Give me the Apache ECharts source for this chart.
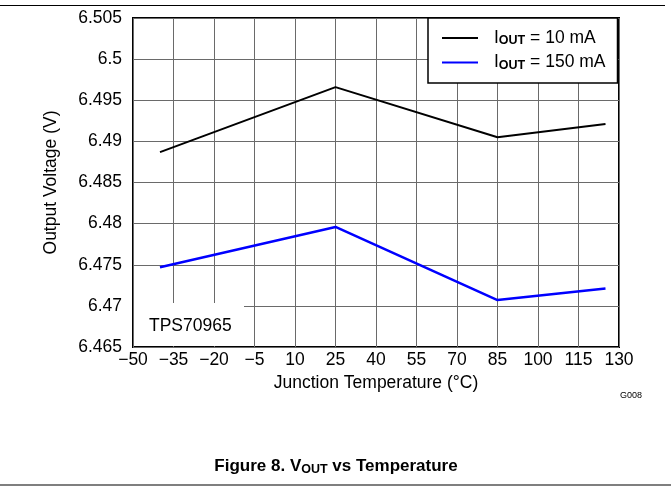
<!DOCTYPE html>
<html><head><meta charset="utf-8">
<script src="https://cdn.jsdelivr.net/npm/echarts@6/dist/echarts.min.js"></script>
<style>html,body{margin:0;padding:0;background:#fff}#c{width:671px;height:487px}</style>
</head><body><div id="c"></div>
<script>
// ---- data ----
const tempC = [-40, 25, 85, 125];
const vout10mA = [6.4887, 6.4966, 6.4905, 6.4921];
const vout150mA = [6.4747, 6.4796, 6.4707, 6.4721];
const seriesNames = ['10 mA', '150 mA'];
const xTickMin = -50, xTickMax = 130, xTickStep = 15;
const yTickMin = 6.465, yTickMax = 6.505, yTickStep = 0.005;
const deviceLabel = 'TPS70965';
const figureId = 'G008';
const xTitle = 'Junction Temperature (°C)';
const yTitle = 'Output Voltage (V)';

const FONT = 'Liberation Sans, Arial, sans-serif';
const FS = 17.5;
const chart = echarts.init(document.getElementById('c'), null, {renderer: 'canvas'});

const toPairs = (xs, ys) => xs.map((x, i) => [x, ys[i]]);

chart.setOption({
  animation: false,
  backgroundColor: '#fff',
  textStyle: {fontFamily: FONT},
  grid: {left: 133, right: 52, top: 18, bottom: 140, show: true,
         borderColor: '#000', borderWidth: 2, backgroundColor: 'transparent', containLabel: false},
  xAxis: {
    type: 'value', min: xTickMin, max: xTickMax, interval: xTickStep,
    name: xTitle, nameLocation: 'middle', nameGap: 25,
    nameTextStyle: {fontSize: FS, color: '#000', fontFamily: FONT},
    axisLine: {show: false}, axisTick: {show: false},
    axisLabel: {fontSize: FS, color: '#000', margin: 4, fontFamily: FONT,
      formatter: v => v < 0 ? '\u2212' + Math.abs(v) : String(v)},
    splitLine: {show: true, lineStyle: {color: '#6a6a6a', width: 1}}
  },
  yAxis: {
    type: 'value', min: yTickMin, max: yTickMax, interval: yTickStep,
    name: yTitle, nameLocation: 'middle', nameGap: 73,
    nameTextStyle: {fontSize: FS, color: '#000', fontFamily: FONT},
    axisLine: {show: false}, axisTick: {show: false},
    axisLabel: {fontSize: FS, color: '#000', margin: 11, fontFamily: FONT,
      formatter: v => String(Number(v.toFixed(3)))},
    splitLine: {show: true, lineStyle: {color: '#6a6a6a', width: 1}}
  },
  legend: {
    orient: 'vertical', left: 428, top: 18,
    backgroundColor: '#fff', borderColor: '#000', borderWidth: 1.5,
    padding: [11, 12, 11, 14], itemGap: 6,
    icon: 'rect', itemWidth: 36, itemHeight: 2,
    data: seriesNames,
    formatter: n => '{g|}{i|I}{s|OUT}{t| = ' + n + '}',
    textStyle: {
      color: '#000', fontFamily: FONT,
      rich: {
        g: {width: 11},
        i: {fontSize: FS, lineHeight: 19, color: '#000', fontFamily: FONT},
        s: {fontSize: 12.5, lineHeight: 12, fontWeight: 'bold', verticalAlign: 'bottom', color: '#000', fontFamily: FONT},
        t: {fontSize: FS, lineHeight: 19, color: '#000', fontFamily: FONT}
      }
    }
  },
  series: [
    {name: seriesNames[0], type: 'line', data: toPairs(tempC, vout10mA), symbol: 'none',
     color: '#000', lineStyle: {color: '#000', width: 2}, z: 3},
    {name: seriesNames[1], type: 'line', data: toPairs(tempC, vout150mA), symbol: 'none',
     color: '#0000ff', lineStyle: {color: '#0000ff', width: 2.5}, z: 3}
  ],
  graphic: [
    {type: 'rect', z: 1, shape: {x: 134, y: 303, width: 110, height: 43}, style: {fill: '#fff'}},
    {type: 'text', z: 2, x: 149, y: 326, style: {text: deviceLabel, fontSize: FS, fontFamily: FONT,
      fill: '#000', verticalAlign: 'middle'}},
    {type: 'text', z: 2, x: 620, y: 396, style: {text: figureId, fontSize: 9, fontFamily: FONT,
      fill: '#000', verticalAlign: 'middle'}},
    {type: 'line', z: 2, shape: {x1: 0, y1: 5.5, x2: 665, y2: 5.5}, style: {stroke: '#000', lineWidth: 1.2}},
    {type: 'line', z: 2, shape: {x1: 0, y1: 485, x2: 671, y2: 485}, style: {stroke: '#000', lineWidth: 1.2}},
    {type: 'text', z: 2, x: 336, y: 466, style: {
      text: '{b|Figure 8. V}{s|OUT}{b| vs Temperature}', align: 'center', verticalAlign: 'middle',
      rich: {
        b: {fontSize: 17, fontWeight: 'bold', lineHeight: 20, fontFamily: FONT, fill: '#000'},
        s: {fontSize: 12.5, fontWeight: 'bold', lineHeight: 13, verticalAlign: 'bottom', fontFamily: FONT, fill: '#000'}
      }}}
  ]
});
</script></body></html>
